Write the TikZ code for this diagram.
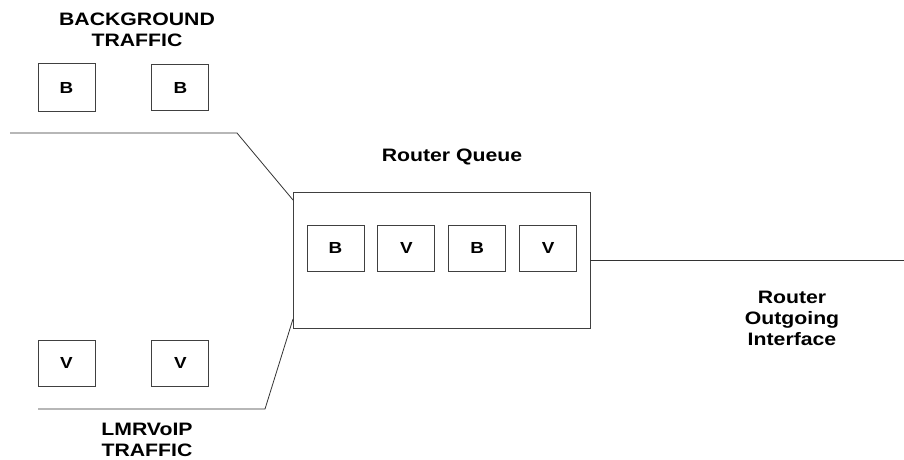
\documentclass[tikz,border=0pt]{standalone}
\usepackage{fontspec}
\setmainfont{Liberation Sans}
\newfontfamily\lblfont[FakeStretch=1.18]{Liberation Sans}
\usetikzlibrary{positioning}

\begin{document}
\begin{tikzpicture}[x=1pt,y=-1pt,
pkt/.style = {draw=black!75, line width=0.9pt, minimum width=57pt, minimum height=46pt, inner sep=0pt, font=\lblfont\bfseries\fontsize{16}{16}\selectfont},
lbl/.style = {align=center, font=\lblfont\bfseries\fontsize{18}{21}\selectfont},
wire/.style = {draw=black!80, line width=0.8pt}]
\useasboundingbox (0,0) rectangle (904,460);

% labels
\node[lbl] (bglbl) at (137,30) {BACKGROUND\\TRAFFIC};
\node[lbl] (voiplbl) at (147,440) {LMRVoIP\\TRAFFIC};
\node[lbl] (qlbl) at (452,157) {Router Queue};
\node[lbl] (outlbl) at (792,318) {Router\\Outgoing\\Interface};

% incoming packets
\node[pkt, minimum height=48pt] (bg1) at (66.5,87.5) {B};
\node[pkt, right=56pt of bg1] (bg2) {B};
\node[pkt] (v1) at (66.5,363) {V};
\node[pkt, right=56pt of v1] (v2) {V};

% the queue
\node[draw=black!75, line width=0.9pt, minimum width=297pt, minimum height=136pt] (queue) at (441.5,260) {};
\node[pkt] (q1) at (335.5,248) {B};
\node[pkt, right=13pt of q1] (q2) {V};
\node[pkt, right=13pt of q2] (q3) {B};
\node[pkt, right=13pt of q3] (q4) {V};

% links
\coordinate (bgin) at (10,133);
\coordinate (bgbend) at (237,133);
\coordinate (bgend) at (293,200);
\coordinate (vin) at (38,409);
\coordinate (vbend) at (265,409);
\coordinate (vend) at (293,319);
\coordinate (out) at (904,260);
\draw[wire] (bgin) -- (bgbend) -- (bgend);
\draw[wire] (vin) -- (vbend) -- (vend);
\draw[wire] (queue.east) -- (out);
\end{tikzpicture}
\end{document}
